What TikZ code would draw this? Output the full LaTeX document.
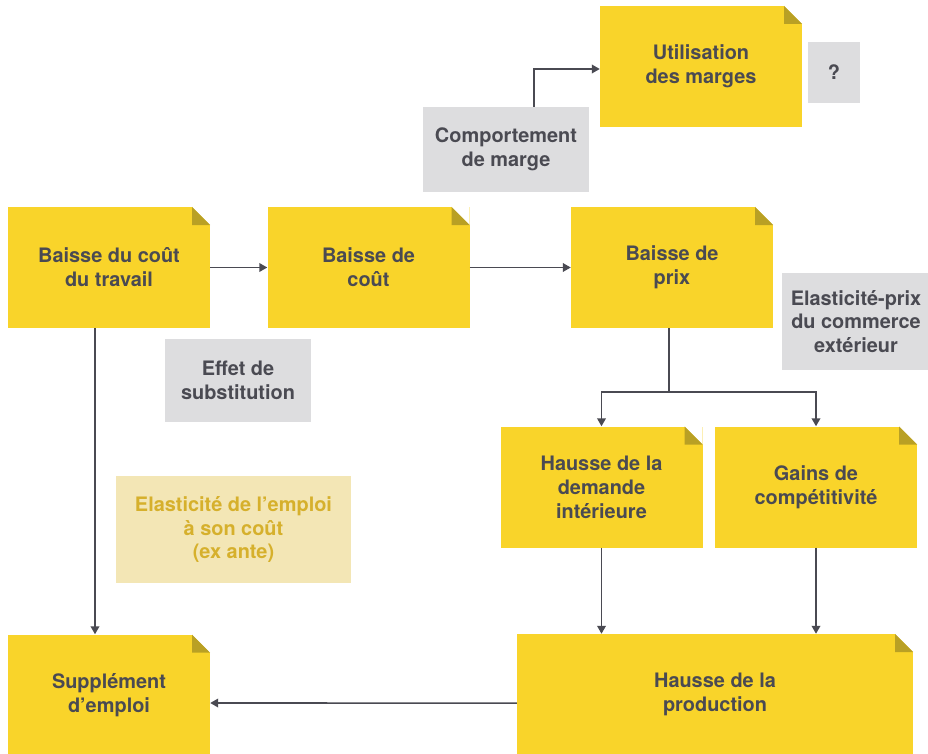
\documentclass[tikz,border=0pt]{standalone}
\usepackage{fontspec}
\setmainfont{TeX Gyre Heros}
\usetikzlibrary{arrows.meta}

\definecolor{jaune}{HTML}{F9D42A}
\definecolor{pli}{HTML}{B9A024}
\definecolor{gris}{HTML}{DDDDDF}
\definecolor{pale}{HTML}{F3E6B5}
\definecolor{ocre}{HTML}{D6B02C}
\definecolor{texte}{HTML}{4A4A52}

\tikzset{
  txt/.style={font=\bfseries\fontsize{17}{20.4}\selectfont, align=center, inner sep=0pt},
  jbox/.style={txt, fill=jaune, text=texte, minimum width=60.6mm, minimum height=36.3mm,
    path picture={
      \fill[white] ([xshift=-5.4mm]path picture bounding box.north east)
        -- (path picture bounding box.north east) -- ++(0,-5.4mm) -- cycle;
      \fill[pli] ([xshift=-5.4mm]path picture bounding box.north east)
        -- ++(0,-5.4mm) -- ++(5.4mm,0) -- cycle;}},
  gbox/.style={txt, fill=gris, text=texte},
  fleche/.style={draw=texte, line width=1.4pt, -{Triangle[length=2.4mm, width=2.6mm]}}
}

\begin{document}
\begin{tikzpicture}[x=0.3mm, y=-0.3mm]
  \useasboundingbox[fill=white] (0,0) rectangle (928,754);

  % grey side notes
  \node[gbox, minimum width=49.8mm, minimum height=25.5mm] (comp) at (506,149.5) {Comportement\\de marge};
  \node[gbox, minimum width=15.6mm, minimum height=18.3mm] (quest) at (834,72.5) {?};
  \node[gbox, minimum width=43.8mm, minimum height=24.9mm] (subst) at (238,380.5) {Effet de\\substitution};
  \node[gbox, minimum width=44.4mm, minimum height=29.1mm] (elprix) at (856,321.5) {Elasticité-prix\\du commerce\\extérieur};
  \node[txt, fill=pale, text=ocre, minimum width=70.5mm, minimum height=32.1mm] (elemp) at (233.5,529.5) {Elasticité de l’emploi\\à son coût\\(ex ante)};

  % yellow boxes
  \node[jbox] (util) at (701,66.5) {Utilisation\\des marges};
  \node[jbox] (travail) at (109,267.5) {Baisse du coût\\du travail};
  \node[jbox] (cout) at (368.5,267.5) {Baisse de\\coût};
  \node[jbox] (prix) at (672,267.5) {Baisse de\\prix};
  \node[jbox] (demande) at (601.5,487) {Hausse de la\\demande\\intérieure};
  \node[jbox] (gains) at (816,487) {Gains de\\compétitivité};
  \node[jbox] (emploi) at (109,695) {Supplément\\d’emploi};
  \node[jbox, minimum width=118.8mm] (prod) at (715,694.5) {Hausse de la\\production};

  \coordinate (split) at (669,392);

  % arrows
  \draw[fleche] (travail) -- (cout);
  \draw[fleche] (cout) -- (prix);
  \draw[fleche] ([xshift=8.4mm]comp.north) |- ([yshift=-0.75mm]util.west);
  \draw[fleche] ([xshift=-4.2mm]travail.south) -- ([xshift=-4.2mm]emploi.north);
  \draw[draw=texte, line width=1.4pt] ([xshift=-0.9mm]prix.south) -- (split);
  \draw[fleche] (split) -| (demande.north);
  \draw[fleche] (split) -| (gains.north);
  \draw[fleche] (demande) -- (demande |- prod.north);
  \draw[fleche] (gains) -- (gains |- prod.north);
  \draw[fleche] ([yshift=-2.6mm]prod.west) -- ([yshift=-2.4mm]emploi.east);
\end{tikzpicture}
\end{document}
